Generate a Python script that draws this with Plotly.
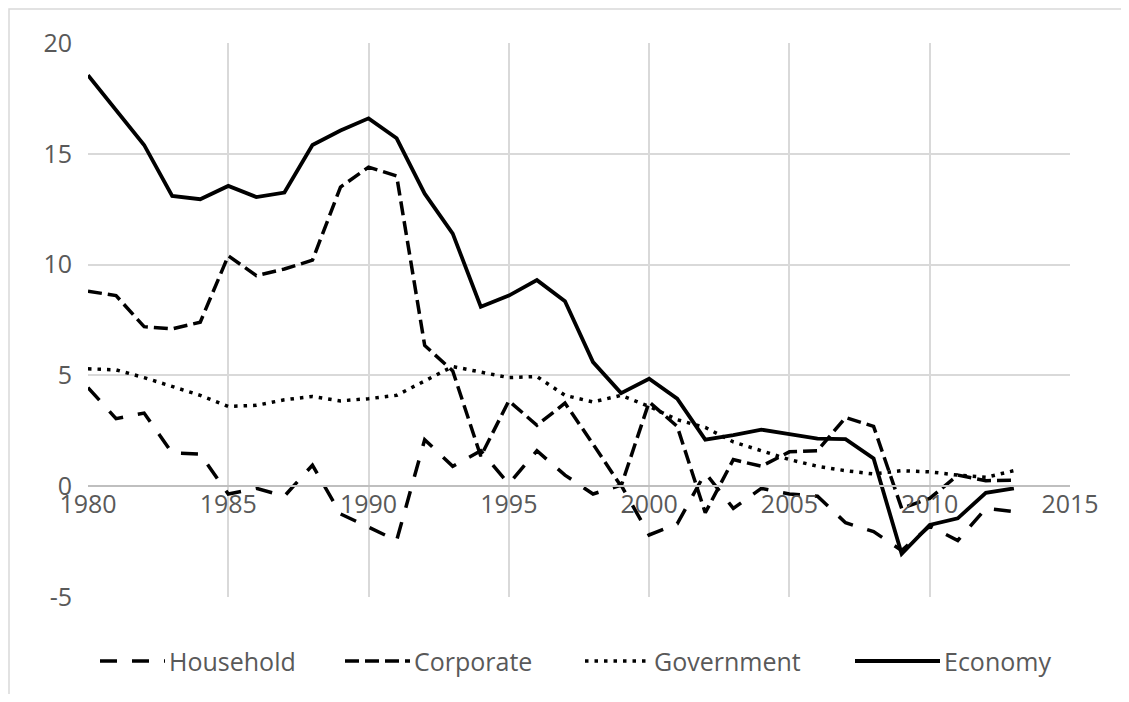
import plotly.graph_objects as go

years = list(range(1980, 2014))

household = [4.45, 3.05, 3.3, 1.5, 1.45, -0.35, -0.1, -0.45, 0.95, -1.25,
             -1.85, -2.45, 2.1, 0.9, 1.6, 0.1, 1.6, 0.5, -0.35, 0.05,
             -2.2, -1.7, 0.6, -1.0, -0.1, -0.35, -0.45, -1.65, -2.05, -2.9,
             -1.8, -2.45, -1.0, -1.15]

corporate = [8.8, 8.6, 7.2, 7.1, 7.4, 10.4, 9.5, 9.8, 10.2, 13.5,
             14.4, 14.0, 6.35, 5.2, 1.35, 3.85, 2.75, 3.75, 1.9, 0.0,
             3.8, 2.7, -1.2, 1.2, 0.9, 1.55, 1.6, 3.1, 2.7, -1.0,
             -0.55, 0.5, 0.25, 0.27]

government = [5.3, 5.25, 4.9, 4.5, 4.1, 3.6, 3.65, 3.9, 4.05, 3.85,
              3.95, 4.1, 4.75, 5.4, 5.15, 4.9, 4.95, 4.1, 3.8, 4.1,
              3.6, 3.0, 2.65, 2.0, 1.6, 1.2, 0.9, 0.7, 0.55, 0.7,
              0.65, 0.5, 0.4, 0.7]

economy = [18.55, 16.95, 15.4, 13.1, 12.95, 13.55, 13.05, 13.25, 15.4, 16.05,
           16.6, 15.7, 13.2, 11.4, 8.1, 8.6, 9.3, 8.35, 5.6, 4.2,
           4.85, 3.95, 2.1, 2.3, 2.55, 2.35, 2.15, 2.12, 1.25, -3.05,
           -1.75, -1.45, -0.3, -0.1]

series_names = ["Household", "Corporate", "Government", "Economy"]
x_ticks = [1980, 1985, 1990, 1995, 2000, 2005, 2010, 2015]
y_ticks = [-5, 0, 5, 10, 15, 20]

styles = {
    "Household": dict(dash="17px,15px", width=3.5),
    "Corporate": dict(dash="14px,6px", width=3.5),
    "Government": dict(dash="3.5px,6px", width=3.5),
    "Economy": dict(dash="solid", width=3.8),
}
data = {"Household": household, "Corporate": corporate,
        "Government": government, "Economy": economy}

# figure geometry (page body adds an 8px offset)
W, H = 1113, 686
ML, MR, MT, MB = 80, 51, 35, 97
PW = W - ML - MR
PH = H - MT - MB
OFF = 8


def px_x(sx):
    return (sx - OFF - ML) / PW


def px_y(sy):
    return (H - MB - (sy - OFF)) / PH


fig = go.Figure()
for name in series_names:
    st = styles[name]
    fig.add_trace(go.Scatter(
        x=years, y=data[name], name=name, mode="lines",
        line=dict(color="black", width=st["width"], dash=st["dash"]),
        showlegend=False,
    ))

FONT = "Open Sans"
TXT = "#595959"

# manual legend (sample line + label), positioned like the reference
legend_pos = {"Household": (100, 165), "Corporate": (345, 410),
              "Government": (585, 650), "Economy": (855, 940)}
leg_y = 661
shapes = [dict(type="rect", xref="paper", yref="paper",
               x0=px_x(9), x1=px_x(1124), y0=px_y(720), y1=px_y(9),
               line=dict(color="#d9d9d9", width=1.5),
               fillcolor="rgba(0,0,0,0)", layer="below")]
annotations = []
for name in series_names:
    a, b = legend_pos[name]
    st = styles[name]
    shapes.append(dict(type="line", xref="paper", yref="paper",
                       x0=px_x(a), x1=px_x(b), y0=px_y(leg_y), y1=px_y(leg_y),
                       line=dict(color="black", width=st["width"], dash=st["dash"])))
    annotations.append(dict(text=name, xref="paper", yref="paper",
                            x=px_x(b + 2), y=px_y(leg_y), xanchor="left",
                            yanchor="middle", showarrow=False,
                            font=dict(family=FONT, size=25, color=TXT)))

fig.update_layout(
    width=W, height=H,
    margin=dict(l=ML, r=MR, t=MT, b=MB),
    paper_bgcolor="white", plot_bgcolor="white",
    font=dict(family=FONT, size=25, color=TXT),
    showlegend=False,
    xaxis=dict(range=[1980, 2015], tickvals=x_ticks, ticktext=[str(t) for t in x_ticks],
               showgrid=True, gridcolor="#d9d9d9", gridwidth=2,
               zeroline=False, showline=True, linecolor="#bfbfbf", linewidth=2,
               anchor="free", position=0.2, ticks="", ticklabelstandoff=-4,
               tickfont=dict(size=25, color=TXT)),
    yaxis=dict(range=[-5, 20], tickvals=y_ticks, ticktext=[str(t) for t in y_ticks],
               showgrid=True, gridcolor="#d9d9d9", gridwidth=2,
               zeroline=False, showline=False, ticks="", ticklabelstandoff=15,
               tickfont=dict(size=25, color=TXT)),
    shapes=shapes,
    annotations=annotations,
)

fig.write_html("out.html")
